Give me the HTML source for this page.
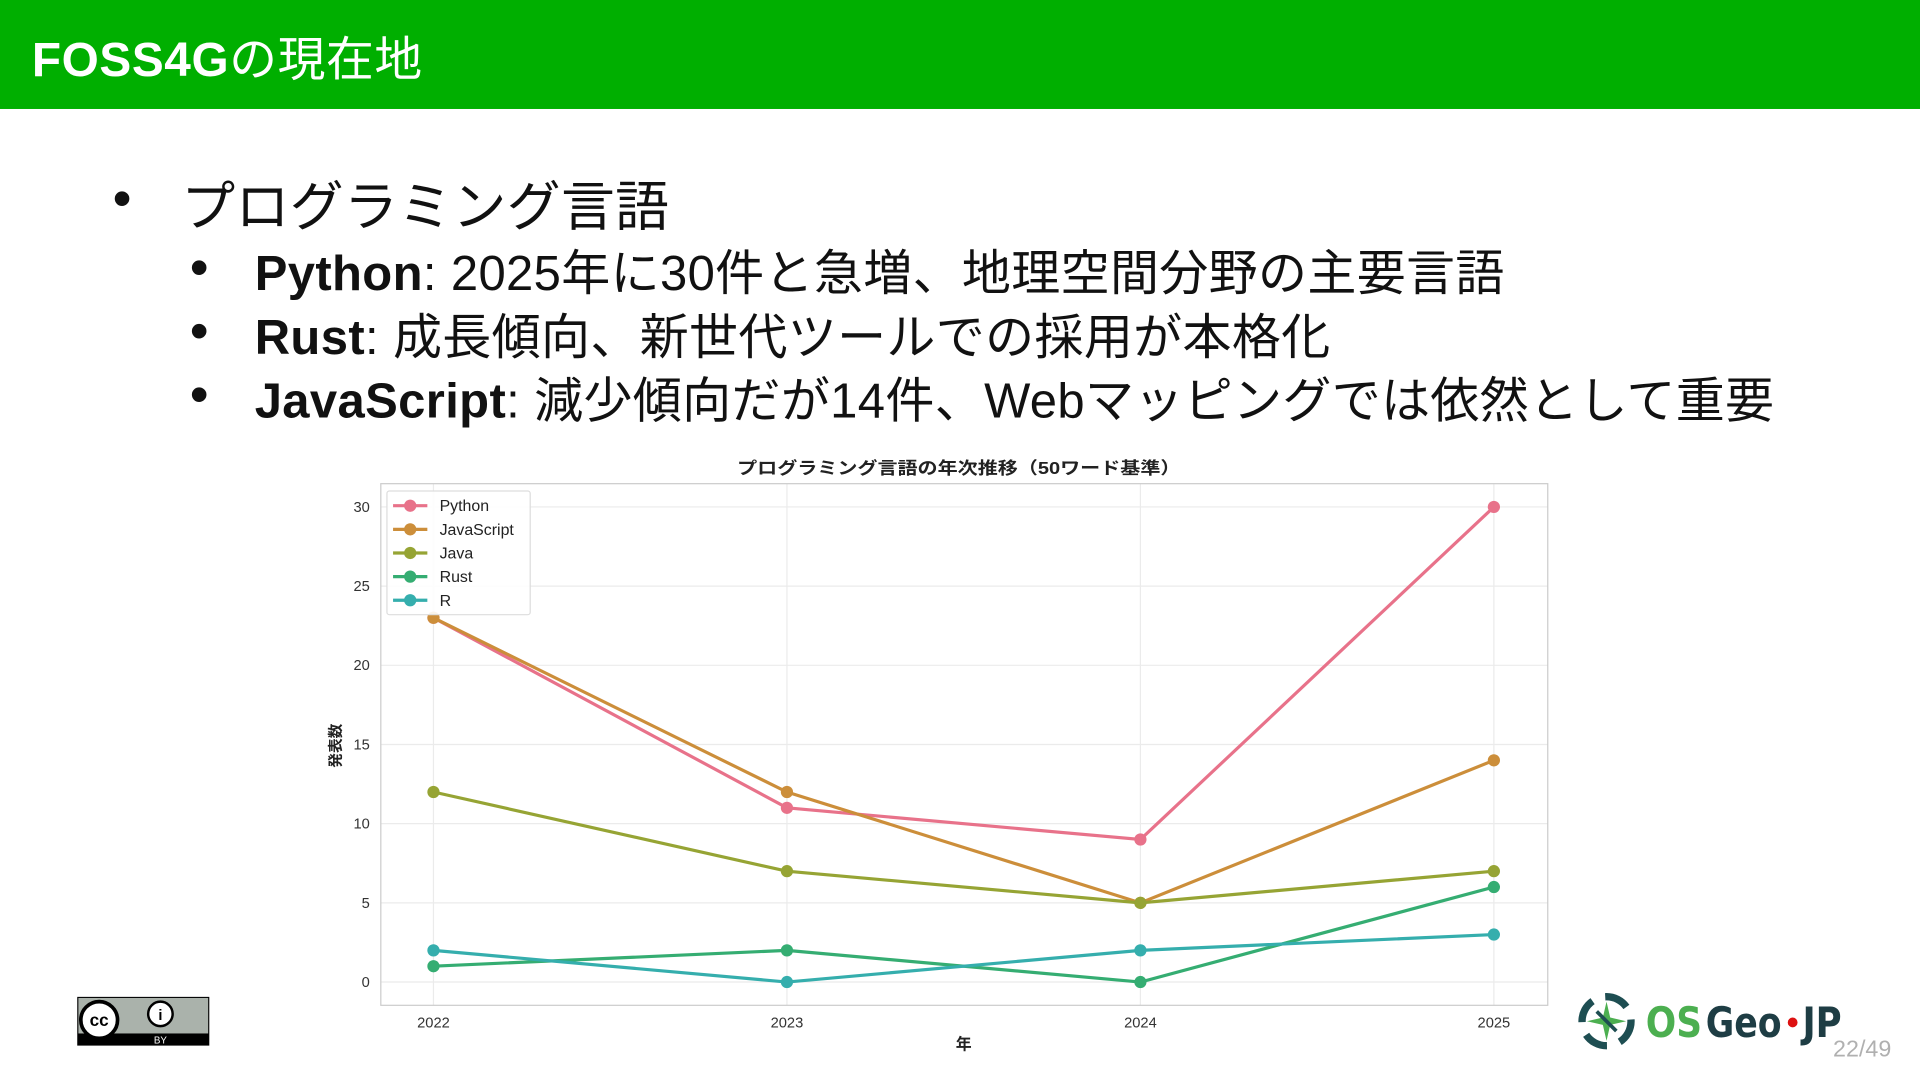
<!DOCTYPE html>
<html><head><meta charset="utf-8">
<style>
html,body{margin:0;padding:0;width:1920px;height:1080px;overflow:hidden;background:#fff}
#wrap{position:absolute;left:0;top:0;width:1568px;height:882px;transform:scale(1.22449);transform-origin:0 0;font-family:"Liberation Sans","Noto Sans CJK JP",sans-serif;color:#111}
.hdr{position:absolute;left:0;top:0;width:1568px;height:89px;background:#00af00}
.hdr h1{margin:0;position:absolute;left:26px;top:18px;font-size:39px;color:#fff;font-weight:normal;letter-spacing:0.5px}
.hdr b{font-weight:bold}
.b{position:absolute;font-size:40px;white-space:nowrap;letter-spacing:0.3px}
.dot{position:absolute;font-size:44px;line-height:44px}
</style></head><body>
<div id="wrap">
<div class="hdr"><h1><b>FOSS4G</b>の現在地</h1></div>
<div class="dot" style="left:92px;top:141px">•</div>
<div class="b" style="left:148px;top:133px;font-size:44px">プログラミング言語</div>
<div class="dot" style="left:155px;top:197px">•</div>
<div class="b" style="left:208px;top:191px"><b>Python</b>: 2025年に30件と急増、地理空間分野の主要言語</div>
<div class="dot" style="left:155px;top:249px">•</div>
<div class="b" style="left:208px;top:243px"><b>Rust</b>: 成長傾向、新世代ツールでの採用が本格化</div>
<div class="dot" style="left:155px;top:301px">•</div>
<div class="b" style="left:208px;top:295px"><b>JavaScript</b>: 減少傾向だが14件、Webマッピングでは依然として重要</div>

<svg id="chart" width="1568" height="882" style="position:absolute;left:0;top:0" font-family="Liberation Sans, Noto Sans CJK JP, sans-serif"></svg>

<svg style="position:absolute;left:63px;top:814px" width="108" height="40">
<rect x="0.5" y="0.5" width="107" height="39" fill="#aab2ab" stroke="#000"/>
<rect x="0.5" y="30" width="107" height="9.5" fill="#000"/>
<circle cx="18" cy="19" r="15" fill="#fff" stroke="#000" stroke-width="3"/>
<text x="18" y="24" font-size="14" font-weight="bold" text-anchor="middle" font-family="Liberation Sans">cc</text>
<circle cx="68" cy="14" r="10" fill="#fff" stroke="#000" stroke-width="2"/>
<text x="68" y="19" font-size="12" font-weight="bold" text-anchor="middle" font-family="Liberation Sans">i</text>
<text x="68" y="38" font-size="8" fill="#fff" text-anchor="middle" font-family="Liberation Sans">BY</text>
</svg>

<svg style="position:absolute;left:1284px;top:806px" width="230" height="56">
<circle cx="28" cy="28" r="20" fill="none" stroke="#1e4e52" stroke-width="6" stroke-dasharray="20 11"/>
<path d="M28 12 L31 25 L44 28 L31 31 L28 44 L25 31 L12 28 L25 25Z" fill="#4caf50"/>
<line x1="20" y1="20" x2="36" y2="36" stroke="#1e4e52" stroke-width="3"/>
<text x="60" y="41" font-size="34" font-weight="bold" fill="#4caf50" font-family="DejaVu Sans Condensed, Liberation Sans" textLength="46" lengthAdjust="spacingAndGlyphs">OS</text>
<text x="109" y="41" font-size="34" font-weight="bold" fill="#1e3d44" font-family="DejaVu Sans Condensed, Liberation Sans" textLength="62" lengthAdjust="spacingAndGlyphs">Geo</text>
<circle cx="180" cy="29" r="4" fill="#d11"/>
<text x="188" y="41" font-size="34" font-weight="bold" fill="#1e3d44" font-family="DejaVu Sans Condensed, Liberation Sans" textLength="32" lengthAdjust="spacingAndGlyphs">JP</text>
</svg>
<div style="position:absolute;left:1497px;top:847px;font-size:19px;color:#b0b0b0">22/49</div>
</div>
<script>
const years = [2022, 2023, 2024, 2025];
const seriesNames = ["Python", "JavaScript", "Java", "Rust", "R"];
const pythonVals = [23, 11, 9, 30];
const javascriptVals = [23, 12, 5, 14];
const javaVals = [12, 7, 5, 7];
const rustVals = [1, 2, 0, 6];
const rVals = [2, 0, 2, 3];
const yTicks = [0, 5, 10, 15, 20, 25, 30];
const colors = ["#e8728a", "#cc8e3a", "#96a434", "#35ad72", "#35aead"];
const allVals = [pythonVals, javascriptVals, javaVals, rustVals, rVals];

const NS = "http://www.w3.org/2000/svg";
const svg = document.getElementById("chart");
const box = {l: 311, t: 395, r: 1264, b: 821};
const xS = v => 354 + (v - years[0]) / (years[years.length - 1] - years[0]) * (1220 - 354);
const yS = v => 802 - v * (802 - 414) / 30;
function mk(tag, attrs, parent) {
  const e = document.createElementNS(NS, tag);
  for (const k in attrs) e.setAttribute(k, attrs[k]);
  (parent || svg).appendChild(e);
  return e;
}
yTicks.forEach(t => {
  const g = mk("line", {x1: box.l, x2: box.r, y1: yS(t), y2: yS(t), stroke: "#ebebeb", "stroke-width": 1});
  
  
  const lb = mk("text", {x: 302, y: yS(t) + 4, "font-size": 12, "text-anchor": "end", fill: "#333"});
  lb.textContent = t;
  
  
});
years.forEach(y => {
  const g = mk("line", {x1: xS(y), x2: xS(y), y1: box.t, y2: box.b, stroke: "#ebebeb", "stroke-width": 1});
  
  
  const lb = mk("text", {x: xS(y), y: 839, "font-size": 12, "text-anchor": "middle", fill: "#333"});
  lb.textContent = y;
  
  
});
const frame = mk("rect", {x: box.l, y: box.t, width: box.r - box.l, height: box.b - box.t, fill: "none", stroke: "#ccc", "stroke-width": 1});


allVals.forEach((vals, i) => {
  const pts = vals.map((v, j) => xS(years[j]) + "," + yS(v)).join(" ");
  const pl = mk("polyline", {points: pts, fill: "none", stroke: colors[i], "stroke-width": 2.6});
  
  
  vals.forEach((v, j) => {
    const c = mk("circle", {cx: xS(years[j]), cy: yS(v), r: 5, fill: colors[i]});
    
    
  });
});
const lg = mk("rect", {x: 316, y: 401, width: 117, height: 101, fill: "#fff", "fill-opacity": 0.9, stroke: "#ddd", rx: 2});


seriesNames.forEach((n, i) => {
  const y = 413 + i * 19.3;
  const l = mk("line", {x1: 321, x2: 349, y1: y, y2: y, stroke: colors[i], "stroke-width": 2.6});
  
  
  const c = mk("circle", {cx: 335, cy: y, r: 5, fill: colors[i]});
  
  
  const t = mk("text", {x: 359, y: y + 4.5, "font-size": 13, fill: "#222"});
  t.textContent = n;
  
  
});
const tt = mk("text", {x: 783, y: 387, "font-size": 14, "font-weight": "bold", "text-anchor": "middle", fill: "#222", textLength: 362, lengthAdjust: "spacingAndGlyphs"});
tt.textContent = "プログラミング言語の年次推移（50ワード基準）";


const xt = mk("text", {x: 787, y: 857, "font-size": 13, "font-weight": "bold", "text-anchor": "middle", fill: "#222"});
xt.textContent = "年";


const yt = mk("text", {x: 0, y: 0, "font-size": 12, "font-weight": "bold", "text-anchor": "middle", fill: "#222", transform: "translate(278,609) rotate(-90)"});
yt.textContent = "発表数";


</script>
</body></html>
